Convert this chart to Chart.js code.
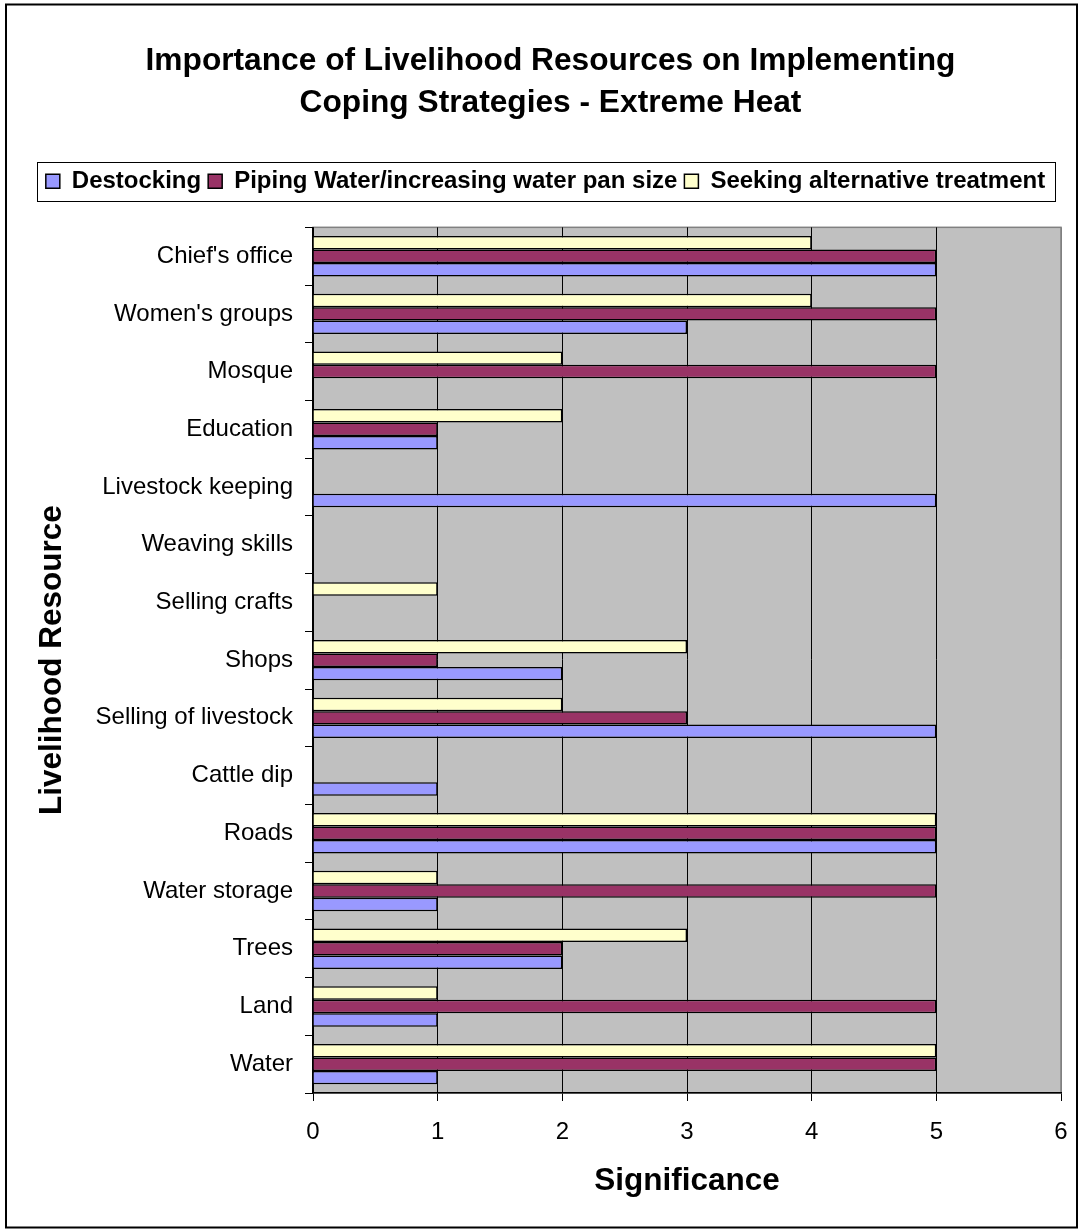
<!DOCTYPE html>
<html>
<head>
<meta charset="utf-8">
<script src="https://cdn.jsdelivr.net/npm/chart.js@4.4.0/dist/chart.umd.min.js"></script>
<style>
  html, body { margin: 0; padding: 0; background: #fff; }
  #wrap { width: 1079px; height: 1230px; }
</style>
</head>
<body>
<div id="wrap"><canvas id="myChart"></canvas></div>
<script>
const categories = [
  "Chief's office", "Women's groups", "Mosque", "Education", "Livestock keeping",
  "Weaving skills", "Selling crafts", "Shops", "Selling of livestock", "Cattle dip",
  "Roads", "Water storage", "Trees", "Land", "Water"
];
const destocking = [5, 3, 0, 1, 5, 0, 0, 2, 5, 1, 5, 1, 2, 1, 1];
const pipingWater = [5, 5, 5, 1, 0, 0, 0, 1, 3, 0, 5, 5, 2, 5, 5];
const seekingTreatment = [4, 4, 2, 2, 0, 0, 1, 3, 2, 0, 5, 1, 3, 1, 5];
const xTicks = [0, 1, 2, 3, 4, 5, 6];

const FONT = "'Liberation Sans', Arial, sans-serif";
Chart.defaults.font.family = FONT;
Chart.defaults.color = "#000";

// grey plot area, outer frame and legend frame
const frame = {
  id: "frame",
  beforeDraw(chart) {
    const c = chart.ctx, a = chart.chartArea;
    c.save();
    c.fillStyle = "#fff";
    c.fillRect(0, 0, chart.width, chart.height);
    c.strokeStyle = "#000";
    c.lineWidth = 2;
    c.strokeRect(6, 4.5, 1071, 1223);
    c.fillStyle = "#C0C0C0";
    c.fillRect(a.left, a.top, a.right - a.left, a.bottom - a.top);
    c.strokeStyle = "#808080";
    c.lineWidth = 1.5;
    c.strokeRect(a.left, a.top, a.right - a.left, a.bottom - a.top);
    c.restore();
  },
  afterDraw(chart) {
    const lg = chart.legend;
    if (!lg || !lg.legendHitBoxes.length) return;
    const hb = lg.legendHitBoxes;
    const x0 = hb[0].left - 9;
    const last = hb[hb.length - 1];
    const x1 = last.left + last.width + 10;
    const y0 = hb[0].top - 7;
    const c = chart.ctx;
    c.save();
    c.strokeStyle = "#000";
    c.lineWidth = 1;
    c.strokeRect(Math.round(x0) + 0.5, Math.round(y0) + 0.5, Math.round(x1 - x0), 39);
    c.restore();
  }
};

// extra space under the legend, and centre title/legend a bit right like the original
const legendGap = {
  id: "legendGap",
  beforeInit(chart) {
    const orig = chart.legend.fit;
    chart.legend.fit = function () {
      orig.bind(chart.legend)();
      this.height += 24;
    };
  },
  afterLayout(chart) {
    chart.legend.left += 10;
    chart.legend.right += 10;
    chart.titleBlock.left += 15;
    chart.titleBlock.right += 15;
  }
};

const ctx = document.getElementById("myChart");
new Chart(ctx, {
  type: "bar",
  data: {
    labels: categories,
    datasets: [
      {
        label: "Seeking alternative treatment",
        data: seekingTreatment,
        backgroundColor: "#FFFFCC",
        borderColor: "#000",
        borderWidth: 1.5,
      },
      {
        label: "Piping Water/increasing water pan size",
        data: pipingWater,
        backgroundColor: "#993366",
        borderColor: "#000",
        borderWidth: 1.5,
      },
      {
        label: "Destocking",
        data: destocking,
        backgroundColor: "#9999FF",
        borderColor: "#000",
        borderWidth: 1.5,
      },
    ],
  },
  options: {
    indexAxis: "y",
    responsive: true,
    maintainAspectRatio: false,
    animation: false,
    layout: { padding: { top: 10, left: 10, right: 18, bottom: 10 } },
    datasets: { bar: { categoryPercentage: 0.7, barPercentage: 1 } },
    scales: {
      x: {
        min: xTicks[0],
        max: xTicks[xTicks.length - 1],
        ticks: { stepSize: 1, padding: 17, font: { size: 24 } },
        grid: {
          color: (c) => (c.tick && c.tick.value === xTicks[xTicks.length - 1] ? "#808080" : "#000"),
          tickColor: "#000",
          tickLength: 8,
          lineWidth: 1,
        },
        border: { color: "#000", width: 1.5 },
        title: {
          display: true,
          text: "Significance",
          font: { size: 31.5, weight: "bold" },
          padding: { top: 0, bottom: 20 },
        },
        afterFit(scale) {
          scale.height = 127;
          scale.paddingLeft = 0;
          scale.paddingRight = 0;
        },
      },
      y: {
        ticks: { padding: 12, font: { size: 24 } },
        grid: {
          offset: true,
          drawOnChartArea: false,
          color: "#000",
          tickLength: 8,
        },
        border: { color: "#000", width: 1.5 },
        title: {
          display: true,
          text: "Livelihood Resource",
          font: { size: 31.5, weight: "bold" },
          padding: { top: 23, bottom: 0 },
        },
        afterFit(scale) { scale.width = 303; },
      },
    },
    plugins: {
      title: {
        display: true,
        text: ["Importance of Livelihood Resources on Implementing", "Coping Strategies - Extreme Heat"],
        font: { size: 31.7, weight: "bold", lineHeight: 1.33 },
        padding: { top: 30, bottom: 38 },
        color: "#000",
      },
      legend: {
        position: "top",
        reverse: true,
        labels: {
          boxWidth: 14,
          boxHeight: 14,
          padding: 7,
          font: { size: 24, weight: "bold" },
          color: "#000",
        },
      },
      tooltip: { enabled: false },
    },
  },
  plugins: [frame, legendGap],
});
</script>
</body>
</html>
